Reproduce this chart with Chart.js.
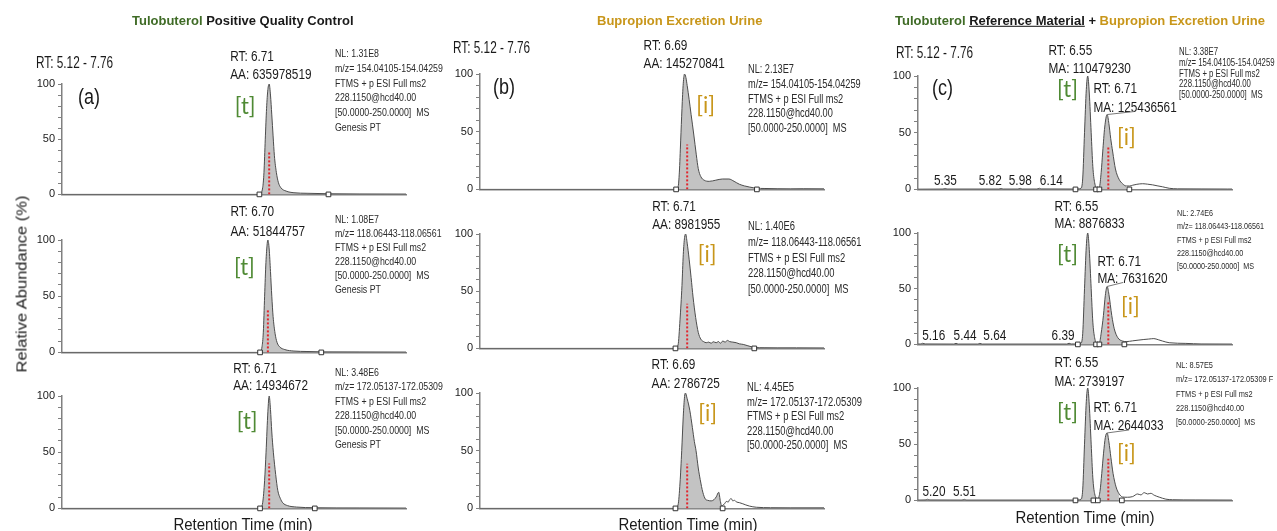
<!DOCTYPE html>
<html>
<head>
<meta charset="utf-8">
<script src="https://cdn.jsdelivr.net/npm/chart.js@4.4.1/dist/chart.umd.min.js"></script>
<style>
  html, body { margin: 0; padding: 0; background: #fff; }
  #fig { position: relative; width: 1277px; height: 531px; overflow: hidden; background: #fff;
         font-family: 'Liberation Sans', Arial, sans-serif; color: #1a1a1a; }
  #fig canvas { position: absolute; }
  .t { position: absolute; white-space: pre; line-height: 1; }
</style>
</head>
<body>
<div id="fig"></div>
<script>
// retention time window shared by every trace, and the labelled y ticks
const rtWindow = [5.12, 7.76];
const yLabels = [0, 50, 100];

// (a) Tulobuterol positive quality control
const qc154Time = [5.12, 6.635, 6.66, 6.67, 6.68, 6.69, 6.70, 6.71, 6.72, 6.73, 6.74, 6.75, 6.765, 6.78, 6.80, 6.84, 6.90, 7.00, 7.17, 7.40, 7.76];
const qc154Abund = [0, 0, 6, 20, 50, 78, 95, 100, 90, 72, 53, 35, 20, 11, 6, 3, 1.5, 1, 0.6, 0.4, 0.3];
const qc118Time = [5.12, 6.64, 6.655, 6.665, 6.675, 6.685, 6.695, 6.70, 6.71, 6.72, 6.73, 6.74, 6.755, 6.77, 6.79, 6.83, 6.90, 7.00, 7.11, 7.40, 7.76];
const qc118Abund = [0, 0, 5, 18, 50, 80, 97, 100, 92, 72, 50, 32, 17, 9, 5, 2.5, 1.2, 0.8, 0.5, 0.4, 0.3];
const qc172Time = [5.12, 6.64, 6.66, 6.675, 6.686, 6.70, 6.71, 6.72, 6.73, 6.742, 6.76, 6.776, 6.795, 6.814, 6.85, 6.92, 7.06, 7.40, 7.76];
const qc172Abund = [0, 0, 5, 25, 50, 86, 100, 88, 68, 50, 30, 16, 9, 5, 2.5, 1.2, 0.6, 0.4, 0.3];

// (b) Bupropion excretion urine
const urine154Time = [5.12, 6.62, 6.64, 6.65, 6.66, 6.67, 6.68, 6.69, 6.70, 6.71, 6.725, 6.74, 6.76, 6.78, 6.795, 6.815, 6.84, 6.88, 6.93, 6.98, 7.03, 7.07, 7.11, 7.15, 7.19, 7.245, 7.30, 7.40, 7.50, 7.60, 7.76];
const urine154Abund = [0, 0, 2, 15, 42, 70, 92, 100, 97, 90, 78, 65, 48, 30, 18, 11, 8, 7, 8, 9, 9, 7, 4.5, 3, 2, 1, 0.8, 0.6, 0.5, 0.6, 0.5];
const urine118Time = [5.12, 6.62, 6.64, 6.655, 6.67, 6.68, 6.69, 6.698, 6.71, 6.725, 6.74, 6.755, 6.775, 6.795, 6.815, 6.835, 6.856, 6.875, 6.894, 6.91, 6.933, 6.95, 6.965, 6.984, 7.0, 7.02, 7.035, 7.06, 7.086, 7.11, 7.14, 7.17, 7.20, 7.225, 7.30, 7.40, 7.55, 7.76];
const urine118Abund = [0, 0, 3, 25, 55, 82, 97, 100, 92, 78, 62, 45, 27, 14, 8, 6, 5, 5.5, 4.5, 5.8, 5, 6, 4.5, 6.5, 5.5, 7, 6, 5.5, 5, 4, 3.5, 2.5, 1.5, 0.8, 0.6, 0.5, 0.5, 0.4];
const urine172Time = [5.12, 6.62, 6.64, 6.655, 6.668, 6.68, 6.69, 6.696, 6.71, 6.73, 6.75, 6.765, 6.778, 6.795, 6.81, 6.83, 6.85, 6.867, 6.894, 6.915, 6.933, 6.952, 6.965, 6.975, 6.985, 6.997, 7.01, 7.025, 7.035, 7.048, 7.06, 7.073, 7.09, 7.11, 7.137, 7.16, 7.188, 7.24, 7.35, 7.50, 7.76];
const urine172Abund = [0, 0, 3, 22, 50, 80, 97, 100, 95, 85, 70, 58, 50, 35, 25, 14, 8, 7, 6.5, 7.5, 10, 14, 6, 2, 3, 4, 6, 5.5, 7.5, 8.5, 6.5, 7, 5.5, 5, 4, 3, 2, 1, 0.6, 0.5, 0.5];

// (c) Tulobuterol reference material + bupropion excretion urine
const mix154Time = [5.12, 5.33, 5.35, 5.37, 5.80, 5.82, 5.84, 5.96, 5.98, 6.00, 6.12, 6.14, 6.16, 6.44, 6.49, 6.505, 6.52, 6.535, 6.547, 6.56, 6.576, 6.59, 6.605, 6.625, 6.645, 6.66, 6.673, 6.69, 6.71, 6.725, 6.74, 6.757, 6.78, 6.81, 6.84, 6.87, 6.90, 6.925, 6.96, 7.009, 7.05, 7.093, 7.13, 7.176, 7.232, 7.30, 7.50, 7.72, 7.76];
const mix154Abund = [0.2, 0.3, 0.8, 0.3, 0.3, 0.8, 0.3, 0.3, 0.9, 0.3, 0.3, 1, 0.4, 0.3, 1, 10, 50, 88, 100, 85, 50, 20, 6, 1, 2, 15, 33, 55, 66, 58, 45, 33, 18, 9, 5, 3, 3, 3.7, 4.5, 5, 4.6, 4, 3.2, 2.3, 1, 0.5, 0.4, 0.3, 0.3];
const mix118Time = [5.12, 5.14, 5.16, 5.18, 5.42, 5.44, 5.46, 5.62, 5.64, 5.66, 6.37, 6.39, 6.41, 6.46, 6.49, 6.505, 6.52, 6.535, 6.547, 6.56, 6.576, 6.59, 6.605, 6.625, 6.645, 6.66, 6.679, 6.695, 6.71, 6.725, 6.749, 6.77, 6.80, 6.84, 6.87, 6.925, 6.97, 7.019, 7.06, 7.103, 7.14, 7.176, 7.232, 7.372, 7.50, 7.76];
const mix118Abund = [0.3, 0.4, 1, 0.4, 0.3, 0.9, 0.3, 0.3, 0.9, 0.3, 0.3, 1, 0.4, 0.3, 1, 10, 50, 88, 100, 85, 50, 20, 6, 1, 1.5, 10, 26, 44, 52, 45, 26, 14, 6, 3, 2.5, 3.2, 3.8, 4.4, 4.8, 5.2, 4.2, 3, 1.5, 0.9, 0.4, 0.3];
const mix172Time = [5.12, 5.18, 5.20, 5.22, 5.49, 5.51, 5.53, 6.44, 6.49, 6.505, 6.52, 6.535, 6.547, 6.56, 6.576, 6.59, 6.605, 6.632, 6.65, 6.665, 6.68, 6.695, 6.71, 6.725, 6.742, 6.76, 6.785, 6.81, 6.84, 6.88, 6.925, 6.966, 6.994, 7.022, 7.05, 7.078, 7.106, 7.148, 7.204, 7.26, 7.45, 7.76];
const mix172Abund = [0.3, 0.4, 1, 0.4, 0.3, 0.9, 0.3, 0.3, 1, 10, 50, 88, 100, 85, 50, 20, 6, 1.5, 8, 24, 42, 56, 60, 52, 38, 24, 12, 6, 3, 2.8, 3.4, 5.7, 4.9, 6.9, 5.7, 6.3, 4.6, 2.9, 1.1, 0.6, 0.4, 0.3];

// integration baseline markers (RT)
const qc154Base = [6.635, 7.165];
const qc118Base = [6.64, 7.11];
const qc172Base = [6.64, 7.06];
const urine154Base = [6.625, 7.245];
const urine118Base = [6.62, 7.225];
const urine172Base = [6.62, 6.982];
const mix154Base = [6.444, 6.617, 6.645, 6.897];
const mix118Base = [6.464, 6.617, 6.645, 6.855];
const mix172Base = [6.444, 6.595, 6.632, 6.834];

// red dotted reference line: [RT, height %]
const qc154Ref = [6.71, 38];
const qc118Ref = [6.70, 39];
const qc172Ref = [6.71, 40];
const urine154Ref = [6.71, 39];
const urine118Ref = [6.71, 39];
const urine172Ref = [6.71, 38.6];
const mix154Ref = [6.72, 37];
const mix118Ref = [6.72, 39];
const mix172Ref = [6.72, 37];

// labelled peaks
const qc154Peaks = [{ rt: 6.71, area: 'AA: 635978519', tag: '[t]' }];
const qc118Peaks = [{ rt: 6.70, area: 'AA: 51844757', tag: '[t]' }];
const qc172Peaks = [{ rt: 6.71, area: 'AA: 14934672', tag: '[t]' }];
const urine154Peaks = [{ rt: 6.69, area: 'AA: 145270841', tag: '[i]' }];
const urine118Peaks = [{ rt: 6.71, area: 'AA: 8981955', tag: '[i]' }];
const urine172Peaks = [{ rt: 6.69, area: 'AA: 2786725', tag: '[i]' }];
const mix154Peaks = [{ rt: 6.55, area: 'MA: 110479230', tag: '[t]' }, { rt: 6.71, area: 'MA: 125436561', tag: '[i]', top: 66 }];
const mix118Peaks = [{ rt: 6.55, area: 'MA: 8876833', tag: '[t]' }, { rt: 6.71, area: 'MA: 7631620', tag: '[i]', top: 52 }];
const mix172Peaks = [{ rt: 6.55, area: 'MA: 2739197', tag: '[t]' }, { rt: 6.71, area: 'MA: 2644033', tag: '[i]', top: 60 }];

// small unlabelled-peak retention times
const mix154Minor = [5.35, 5.82, 5.98, 6.14];
const mix118Minor = [5.16, 5.44, 5.64, 6.39];
const mix172Minor = [5.20, 5.51];

// scan header text
const qc154Info = ['NL: 1.31E8', 'm/z= 154.04105-154.04259', 'FTMS + p ESI Full ms2', '228.1150@hcd40.00', '[50.0000-250.0000]  MS', 'Genesis PT'];
const qc118Info = ['NL: 1.08E7', 'm/z= 118.06443-118.06561', 'FTMS + p ESI Full ms2', '228.1150@hcd40.00', '[50.0000-250.0000]  MS', 'Genesis PT'];
const qc172Info = ['NL: 3.48E6', 'm/z= 172.05137-172.05309', 'FTMS + p ESI Full ms2', '228.1150@hcd40.00', '[50.0000-250.0000]  MS', 'Genesis PT'];
const urine154Info = ['NL: 2.13E7', 'm/z= 154.04105-154.04259', 'FTMS + p ESI Full ms2', '228.1150@hcd40.00', '[50.0000-250.0000]  MS'];
const urine118Info = ['NL: 1.40E6', 'm/z= 118.06443-118.06561', 'FTMS + p ESI Full ms2', '228.1150@hcd40.00', '[50.0000-250.0000]  MS'];
const urine172Info = ['NL: 4.45E5', 'm/z= 172.05137-172.05309', 'FTMS + p ESI Full ms2', '228.1150@hcd40.00', '[50.0000-250.0000]  MS'];
const mix154Info = ['NL: 3.38E7', 'm/z= 154.04105-154.04259', 'FTMS + p ESI Full ms2', '228.1150@hcd40.00', '[50.0000-250.0000]  MS'];
const mix118Info = ['NL: 2.74E6', 'm/z= 118.06443-118.06561', 'FTMS + p ESI Full ms2', '228.1150@hcd40.00', '[50.0000-250.0000]  MS'];
const mix172Info = ['NL: 8.57E5', 'm/z= 172.05137-172.05309 F', 'FTMS + p ESI Full ms2', '228.1150@hcd40.00', '[50.0000-250.0000]  MS'];

const GREEN_T = '#3f6b26', GREEN_TAG = '#4f8a34', GOLD = '#c8961a';
const FONT = "'Liberation Sans', Arial, sans-serif";
Chart.defaults.font.family = FONT;

const fig = document.getElementById('fig');

function put(html, x, y, size, sy, opt) {
  opt = opt || {};
  const el = document.createElement('div');
  el.className = 't';
  el.innerHTML = html;
  el.style.left = x + 'px';
  el.style.top = y + 'px';
  el.style.fontSize = size + 'px';
  if (opt.bold) el.style.fontWeight = 'bold';
  if (opt.color) el.style.color = opt.color;
  if (opt.center) {
    el.style.transformOrigin = 'center center';
    el.style.transform = 'translate(-50%,-50%) scaleY(' + sy + ')' + (opt.rotate ? ' rotate(-90deg)' : '');
  } else {
    el.style.transformOrigin = 'left center';
    el.style.transform = 'translateY(-50%) scaleY(' + sy + ')';
  }
  fig.appendChild(el);
}

function txt(ctx, s, x, cy, size, sy, color, align, family, lift) {
  ctx.save();
  ctx.font = size + 'px ' + (family || FONT);
  ctx.fillStyle = color;
  ctx.textAlign = align || 'left';
  ctx.textBaseline = 'alphabetic';
  ctx.translate(x, cy);
  ctx.scale(1, sy);
  ctx.fillText(s, 0, (lift || 0.36) * size);
  ctx.restore();
}

// layout of each panel (pixel boxes and label offsets)
const panels = [
  { time: qc154Time, abund: qc154Abund, base: qc154Base, ref: qc154Ref, peaks: qc154Peaks, minor: [],
    box: [62, 407, 84, 198], lab: [[-39, -29, -11]], tag: [[-24, 23]] },
  { time: qc118Time, abund: qc118Abund, base: qc118Base, ref: qc118Ref, peaks: qc118Peaks, minor: [],
    box: [62, 407, 240, 356], lab: [[-37.5, -30, -10]], tag: [[-23.5, 28]] },
  { time: qc172Time, abund: qc172Abund, base: qc172Base, ref: qc172Ref, peaks: qc172Peaks, minor: [],
    box: [62, 407, 396, 512], lab: [[-36, -29, -12]], tag: [[-22, 26]] },
  { time: urine154Time, abund: urine154Abund, base: urine154Base, ref: urine154Ref, peaks: urine154Peaks, minor: [],
    box: [480, 825, 74, 193], lab: [[-41, -30, -11.5]], tag: [[21, 32]] },
  { time: urine118Time, abund: urine118Abund, base: urine118Base, ref: urine118Ref, peaks: urine118Peaks, minor: [],
    box: [480, 825, 234, 352], lab: [[-35, -29, -11]], tag: [[20, 21]] },
  { time: urine172Time, abund: urine172Abund, base: urine172Base, ref: urine172Ref, peaks: urine172Peaks, minor: [],
    box: [480, 825, 393, 512], lab: [[-33, -30, -11]], tag: [[23, 21]] },
  { time: mix154Time, abund: mix154Abund, base: mix154Base, ref: mix154Ref, peaks: mix154Peaks, minor: mix154Minor,
    minorDx: [0, -11, 0, 12], link: [27, -3],
    box: [918, 1233, 76, 193], lab: [[-39.6, -27, -8.5], [-13.7, 11.5, 30]], tag: [[-20.6, 14], [19.3, 62]] },
  { time: mix118Time, abund: mix118Abund, base: mix118Base, ref: mix118Ref, peaks: mix118Peaks, minor: mix118Minor,
    minorDx: [11, 9, 15, -6], link: [16, -4],
    box: [918, 1233, 233, 348], lab: [[-33.6, -28, -10.5], [-9.7, 27, 44.5]], tag: [[-20.6, 22], [23.3, 74]] },
  { time: mix172Time, abund: mix172Abund, base: mix172Base, ref: mix172Ref, peaks: mix172Peaks, minor: mix172Minor,
    minorDx: [6.5, 0], link: [22, -3],
    box: [918, 1233, 388, 504], lab: [[-33.6, -27, -8], [-13.7, 18, 36]], tag: [[-20.6, 25], [19.3, 66]] }
];

const PAD_TOP = 62, AXIS_W = 44, PAD_R = 4, AXIS_H = 6;

panels.forEach(p => {
  const [l, r, t, b] = p.box;
  const w = AXIS_W + (r - l) + PAD_R;
  const h = PAD_TOP + (b - t) + AXIS_H;
  const cv = document.createElement('canvas');
  cv.width = w; cv.height = h;
  cv.style.left = (l - AXIS_W) + 'px';
  cv.style.top = (t - PAD_TOP) + 'px';
  cv.style.width = w + 'px';
  cv.style.height = h + 'px';
  fig.appendChild(cv);

  const pts = p.time.map((x, i) => ({ x: x, y: p.abund[i] }));
  const lo = p.base[0], hi = p.base[p.base.length - 1];

  const notes = {
    id: 'notes',
    afterDatasetsDraw(chart) {
      const ctx = chart.ctx, xs = chart.scales.x, ys = chart.scales.y;
      const top = chart.chartArea.top, y0 = ys.getPixelForValue(0);
      p.peaks.forEach((pk, i) => {
        const px = xs.getPixelForValue(pk.rt);
        const [dx, dy1, dy2] = p.lab[i];
        txt(ctx, 'RT: ' + pk.rt.toFixed(2), px + dx, top + dy1, 11.8, 1.3, '#1a1a1a');
        txt(ctx, pk.area, px + dx, top + dy2, 11.8, 1.3, '#1a1a1a');
        const [tx, ty] = p.tag[i];
        txt(ctx, pk.tag, px + tx, top + ty, 22, 1.05, pk.tag === '[t]' ? GREEN_TAG : GOLD, 'center', "Lato, 'Open Sans', sans-serif", 0.3);
        if (pk.top && p.link) {
          const py = ys.getPixelForValue(pk.top);
          ctx.save();
          ctx.strokeStyle = '#777';
          ctx.lineWidth = 1;
          ctx.beginPath();
          ctx.moveTo(px, py);
          ctx.lineTo(px + p.link[0], py + p.link[1]);
          ctx.stroke();
          ctx.restore();
        }
      });
      p.minor.forEach((rt, i) => {
        const px = xs.getPixelForValue(rt) + p.minorDx[i];
        txt(ctx, rt.toFixed(2), px, y0 - 10, 11.8, 1.3, '#1a1a1a', 'center');
      });
    }
  };

  new Chart(cv, {
    type: 'line',
    data: {
      datasets: [
        { data: p.base.map(v => ({ x: v, y: 0 })), showLine: false, pointStyle: 'rect', pointRadius: 3.3,
          pointBackgroundColor: '#fff', pointBorderColor: '#333', pointBorderWidth: 1, clip: false, order: 0 },
        { data: [{ x: p.ref[0], y: 0 }, { x: p.ref[0], y: p.ref[1] }], borderColor: '#e3242b', borderWidth: 2,
          borderDash: [2, 2], pointRadius: 0, fill: false, order: 1 },
        { data: pts, borderColor: '#4d4d4d', borderWidth: 1, pointRadius: 0, fill: false,
          cubicInterpolationMode: 'monotone', order: 2 },
        { data: pts.filter(q => q.x >= lo && q.x <= hi), borderColor: 'rgba(0,0,0,0)', borderWidth: 1,
          backgroundColor: '#c3c3c3', fill: 'origin', pointRadius: 0, cubicInterpolationMode: 'monotone', order: 3 }
      ]
    },
    options: {
      responsive: false,
      animation: false,
      devicePixelRatio: 1,
      layout: { padding: { top: PAD_TOP, right: PAD_R, left: 0, bottom: 0 } },
      plugins: { legend: { display: false }, tooltip: { enabled: false } },
      scales: {
        x: {
          type: 'linear', min: rtWindow[0], max: rtWindow[1],
          afterFit: s => { s.height = AXIS_H; },
          ticks: { display: false },
          grid: { display: false },
          border: { display: true, color: '#808080', width: 1.5 }
        },
        y: {
          min: 0, max: 100,
          afterFit: s => { s.width = AXIS_W; },
          ticks: { stepSize: 10, autoSkip: false, padding: 3, color: '#1a1a1a',
                   font: { size: 11 }, callback: v => (yLabels.includes(v) ? String(v) : '') },
          grid: { drawOnChartArea: false, drawTicks: true, tickLength: 4, color: '#808080', lineWidth: 1 },
          border: { display: true, color: '#808080', width: 1.5 }
        }
      }
    },
    plugins: [notes]
  });
});

// column titles
put('<span style="color:' + GREEN_T + '">Tulobuterol</span> Positive Quality Control', 132, 20, 13, 1.05, { bold: true });
put('<span style="color:' + GOLD + '">Bupropion Excretion Urine</span>', 597, 20, 13, 1.05, { bold: true });
put('<span style="color:' + GREEN_T + '">Tulobuterol</span> <span style="text-decoration:underline">Reference Material</span> + <span style="color:' + GOLD + '">Bupropion Excretion Urine</span>', 895, 20, 13, 1.05, { bold: true });

// RT window and panel letters
put('RT: ' + rtWindow[0].toFixed(2) + ' - ' + rtWindow[1].toFixed(2), 36, 64, 11.8, 1.35);
put('RT: ' + rtWindow[0].toFixed(2) + ' - ' + rtWindow[1].toFixed(2), 453, 49, 11.8, 1.35);
put('RT: ' + rtWindow[0].toFixed(2) + ' - ' + rtWindow[1].toFixed(2), 896, 54, 11.8, 1.35);
put('(a)', 78, 96, 18, 1.25);
put('(b)', 493, 86, 18, 1.25);
put('(c)', 932, 87, 18, 1.25);

// scan headers
function infoBlock(lines, x, y0, step, size) {
  lines.forEach((s, i) => put(s, x, y0 + i * step, size, 1.3, { color: '#2a2a2a' }));
}
infoBlock(qc154Info, 335, 54, 14.8, 8.8);
infoBlock(qc118Info, 335, 220, 14, 8.8);
infoBlock(qc172Info, 335, 373, 14.4, 8.8);
infoBlock(urine154Info, 748, 70, 14.75, 9.2);
infoBlock(urine118Info, 748, 226, 15.75, 9.4);
infoBlock(urine172Info, 747, 387, 14.5, 9.4);
infoBlock(mix154Info, 1179, 52, 10.75, 7.8);
infoBlock(mix118Info, 1177, 213, 13.25, 7.2);
infoBlock(mix172Info, 1176, 365, 14.25, 7.4);

// axis titles
put('Retention Time (min)', 243, 524, 15, 1.1, { center: true });
put('Retention Time (min)', 688, 524, 15, 1.1, { center: true });
put('Retention Time (min)', 1085, 517, 15, 1.1, { center: true });
put('Relative Abundance (%)', 21, 284, 15, 1.1, { center: true, rotate: true });
</script>
</body>
</html>
